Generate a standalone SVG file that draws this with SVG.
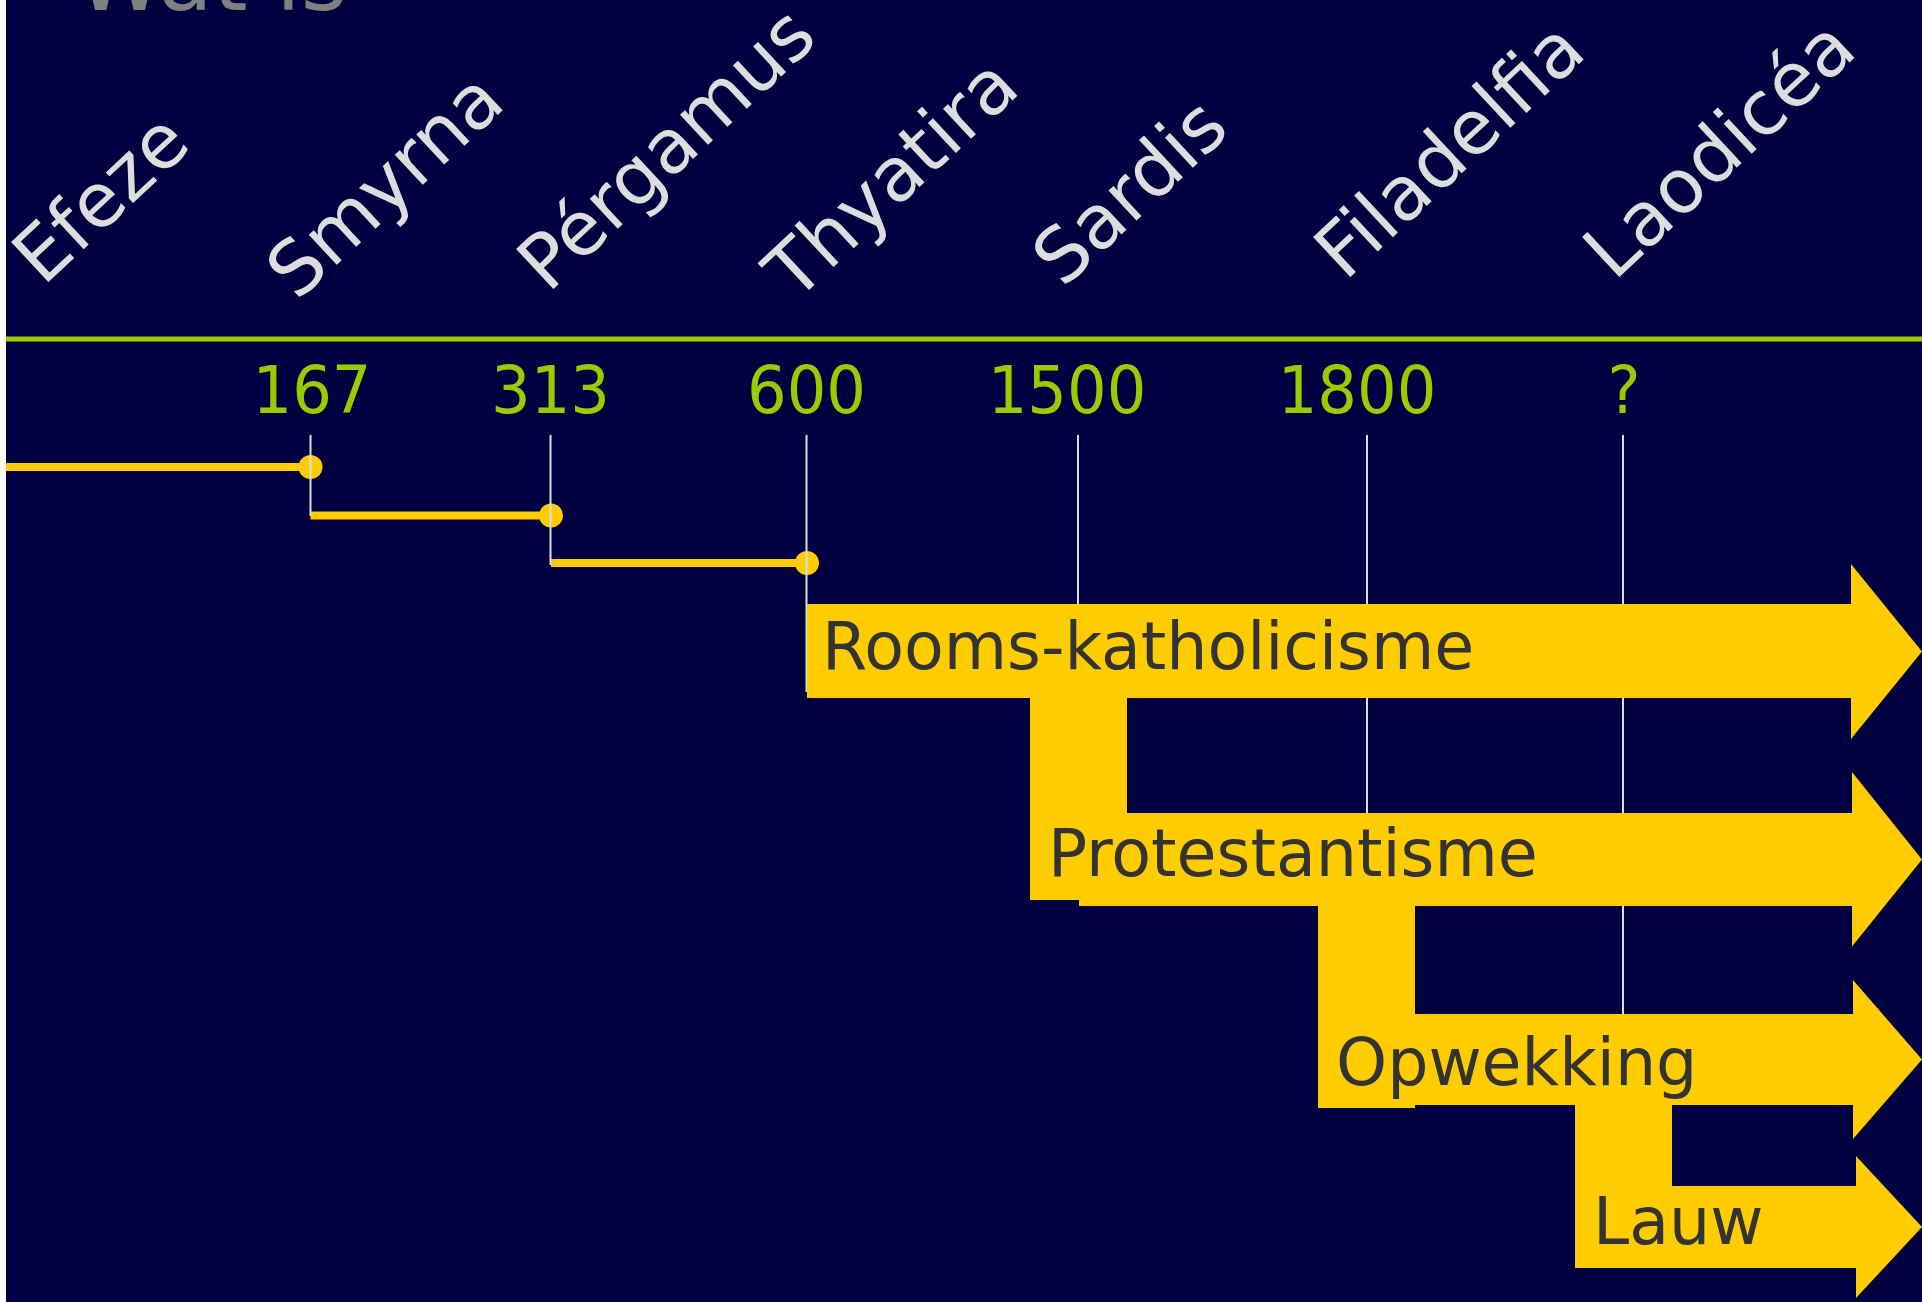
<svg xmlns="http://www.w3.org/2000/svg" width="1922" height="1302" viewBox="0 0 1922 1302">
<style>
.lbl{font-family:"DejaVu Sans","Verdana",sans-serif;font-size:75px;fill:#DDDDDD}
.yr{font-family:"DejaVu Sans","Verdana",sans-serif;font-size:66px;fill:#99CC00;text-anchor:middle}
.at{font-family:"DejaVu Sans","Verdana",sans-serif;font-size:65px;fill:#333333}
.ttl{font-family:"DejaVu Sans","Verdana",sans-serif;font-size:89px;fill:#808080}
.tick{stroke:#DDDDDD;stroke-width:2;fill:none}
.step{stroke:#FFCC00;stroke-width:8;fill:none}
.dot{fill:#FFCC00}
.arr{fill:#FFCC00}
</style>
<rect x="0" y="0" width="1922" height="1302" fill="#FFFFFF"/>
<rect x="6" y="0" width="1916" height="1302" fill="#000040"/>
<g id="title"><text class="ttl" x="76" y="10">Wat is</text></g>
<g id="labels">
<text id="efeze" class="lbl" transform="translate(43,287) rotate(-43)">Efeze</text>
<text id="smyrna" class="lbl" transform="translate(297,302) rotate(-43)">Smyrna</text>
<text id="pergamus" class="lbl" transform="translate(548,294) rotate(-43)">Pérgamus</text>
<text id="thyatira" class="lbl" transform="translate(795,303) rotate(-43)">Thyatira</text>
<text id="sardis" class="lbl" transform="translate(1063,289) rotate(-43)">Sardis</text>
<text id="filadelfia" class="lbl" transform="translate(1345,282) rotate(-43)">Filadelfia</text>
<text id="laodicea" class="lbl" transform="translate(1614,282) rotate(-43)">Laodicéa</text>
</g>
<rect id="axis" x="6" y="336.5" width="1916" height="5" fill="#99CC00"/>
<g id="years">
<text class="yr" transform="translate(312,413) scale(0.945,1)">167</text>
<text class="yr" transform="translate(550.5,413) scale(0.945,1)">313</text>
<text class="yr" transform="translate(806.5,413) scale(0.945,1)">600</text>
<text class="yr" transform="translate(1067,413) scale(0.945,1)">1500</text>
<text class="yr" transform="translate(1357,413) scale(0.945,1)">1800</text>
<text class="yr" transform="translate(1624,413) scale(0.945,1)">?</text>
</g>
<g id="steps">
<line class="step" x1="6" y1="467" x2="310.5" y2="467"/>
<line class="step" x1="310.5" y1="515.5" x2="551" y2="515.5"/>
<line class="step" x1="551" y1="563" x2="807" y2="563"/>
<circle class="dot" cx="310.5" cy="467" r="12"/>
<circle class="dot" cx="551" cy="515.5" r="12"/>
<circle class="dot" cx="807" cy="563" r="12"/>
</g>
<g id="ticks">
<line class="tick" x1="310.5" y1="435" x2="310.5" y2="516"/>
<line class="tick" x1="550.5" y1="435" x2="550.5" y2="565"/>
<line class="tick" x1="806.5" y1="435" x2="806.5" y2="692"/>
<line class="tick" x1="1078" y1="435" x2="1078" y2="813"/>
<line class="tick" x1="1367" y1="435" x2="1367" y2="1014"/>
<line class="tick" x1="1623" y1="435" x2="1623" y2="1186"/>
</g>
<g id="connectors">
<rect class="arr" x="1030" y="698" width="97" height="202"/>
<rect class="arr" x="1318" y="906" width="97" height="202"/>
<rect class="arr" x="1575" y="1105" width="97" height="163"/>
</g>
<g id="rooms">
<path class="arr" d="M807,604 H1851 V564 L1922,651.5 L1851,739 V698 H807 Z"/>
<text class="at" x="822" y="669">Rooms-katholicisme</text>
</g>
<g id="protestantisme">
<path class="arr" d="M1079,813 H1852 V772 L1922,859.5 L1852,946.5 V906 H1079 Z"/>
<text class="at" x="1048" y="876">Protestantisme</text>
</g>
<g id="opwekking">
<path class="arr" d="M1367,1014 H1853 V980 L1922,1059.5 L1853,1139 V1105 H1367 Z"/>
<text class="at" x="1336" y="1085">Opwekking</text>
</g>
<g id="lauw">
<path class="arr" d="M1623,1186 H1856 V1156 L1922,1227 L1856,1298 V1268 H1623 Z"/>
<text class="at" x="1593" y="1244">Lauw</text>
</g>
</svg>
